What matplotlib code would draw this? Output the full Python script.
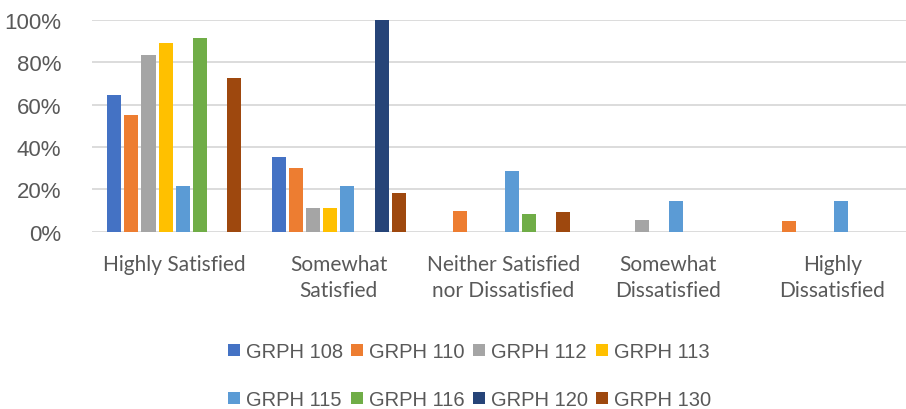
import matplotlib
matplotlib.use("Agg")
import matplotlib.pyplot as plt
from matplotlib.patches import Patch
import numpy as np

categories = ["Highly Satisfied", "Somewhat\nSatisfied", "Neither Satisfied\nnor Dissatisfied",
              "Somewhat\nDissatisfied", "Highly\nDissatisfied"]
series_names = ["GRPH 108", "GRPH 110", "GRPH 112", "GRPH 113",
                "GRPH 115", "GRPH 116", "GRPH 120", "GRPH 130"]
grph108 = [64.7, 35.3, 0, 0, 0]
grph110 = [55.0, 30.0, 10.0, 0, 5.0]
grph112 = [83.3, 11.1, 0, 5.6, 0]
grph113 = [88.9, 11.1, 0, 0, 0]
grph115 = [21.4, 21.4, 28.6, 14.3, 14.3]
grph116 = [91.7, 0, 8.3, 0, 0]
grph120 = [0, 100.0, 0, 0, 0]
grph130 = [72.7, 18.2, 9.1, 0, 0]
yticks = [0, 20, 40, 60, 80, 100]

series = [grph108, grph110, grph112, grph113, grph115, grph116, grph120, grph130]
colors = ["#4472C4", "#ED7D31", "#A5A5A5", "#FFC000",
          "#5B9BD5", "#70AD47", "#264478", "#9E480E"]

W, H = 906, 410
fig = plt.figure(figsize=(W / 100, H / 100), dpi=100)
left_px, right_px = 92, 914.5
top_px, bottom_px = 21, 232.7
ax = fig.add_axes([left_px / W, 1 - bottom_px / H,
                   (right_px - left_px) / W, (bottom_px - top_px) / H])

slot = 0.1045
bar_w = 0.086
x = np.arange(len(categories)) + 0.5
for j, (vals, c, name) in enumerate(zip(series, colors, series_names)):
    ax.bar(x + (j - 3.5) * slot, vals, width=bar_w, color=c, label=name, zorder=3)

ax.set_xlim(0, len(categories))
ax.set_ylim(0, 100)
ax.set_yticks(yticks)
ax.set_yticklabels([f"{v}%" for v in yticks], fontfamily="Liberation Sans",
                   fontsize=16, color="#595959")
ax.yaxis.grid(True, color="#D9D9D9", linewidth=1.3, zorder=0)
ax.set_axisbelow(True)
ax.tick_params(axis="y", length=0, pad=22)
ax.tick_params(axis="x", length=0, pad=16)
ax.set_xticks(x)
ax.set_xticklabels(categories, fontfamily="Lato", fontsize=15, color="#595959",
                   linespacing=1.38, va="top")
for s in ax.spines.values():
    s.set_visible(False)

# legend fills column-major, so interleave to read row by row
order = [0, 4, 1, 5, 2, 6, 3, 7]
handles = [Patch(facecolor=colors[i], edgecolor="none") for i in order]
labels = [series_names[i] for i in order]
fig.legend(handles, labels, ncol=4, loc="upper left",
           bbox_to_anchor=(228 / W, 1 - 343 / H), frameon=False,
           prop={"family": "Liberation Sans", "size": 14.5},
           labelcolor="#595959", handlelength=0.6, handleheight=0.6,
           handletextpad=0.3, columnspacing=0.4, labelspacing=1.45,
           borderaxespad=0, borderpad=0)

fig.savefig("out.png", dpi=100)
